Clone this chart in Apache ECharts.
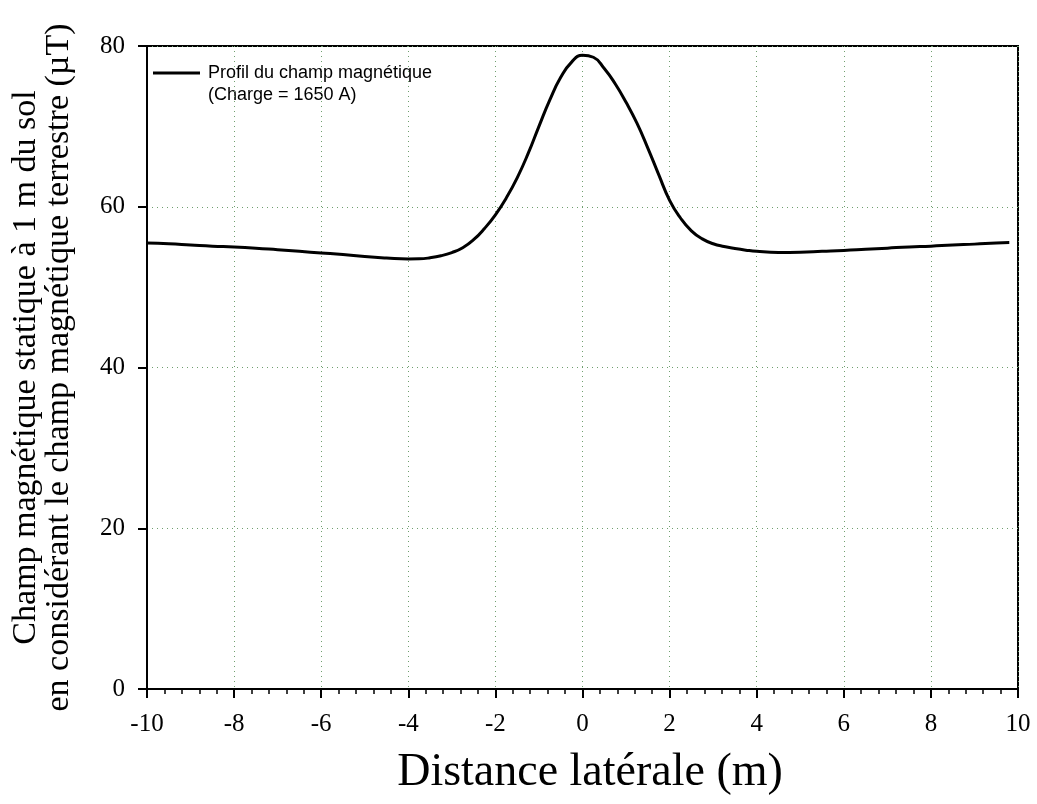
<!DOCTYPE html>
<html>
<head>
<meta charset="utf-8">
<script src="https://cdn.jsdelivr.net/npm/echarts@6/dist/echarts.min.js"></script>
<style>html,body{margin:0;padding:0;background:#fff}#c{width:1037px;height:804px}</style>
</head>
<body>
<div id="c"></div>
<script>
const distances = [-10,-9.5,-9,-8.5,-8,-7.5,-7,-6.5,-6,-5.5,-5,-4.5,-4,-3.75,-3.5,-3.25,-3,-2.75,-2.5,-2.25,-2,-1.75,-1.5,-1.25,-1,-0.75,-0.5,-0.25,0,0.25,0.5,0.75,1,1.25,1.5,1.75,2,2.25,2.5,2.75,3,3.25,3.5,3.75,4,4.5,5,5.5,6,6.5,7,7.5,8,8.5,9,9.5,9.8];
const fieldValues = [55.5,55.4,55.25,55.1,55.0,54.85,54.65,54.45,54.25,54.05,53.8,53.62,53.5,53.52,53.65,53.9,54.3,54.9,55.9,57.3,59.0,61.1,63.6,66.6,70.0,73.3,76.1,78.0,78.85,78.6,77.2,75.3,73.0,70.4,67.3,64.0,60.8,58.6,57.0,56.0,55.4,55.05,54.8,54.6,54.45,54.32,54.35,54.45,54.55,54.7,54.85,55.0,55.1,55.25,55.35,55.5,55.55];
const seriesName = 'Profil du champ magnétique';
const legendNote = '(Charge = 1650 A)';
const xTitle = 'Distance latérale (m)';
const yTitle = 'Champ magnétique statique à 1 m du sol\nen considérant le champ magnétique terrestre (µT)';

const chart = echarts.init(document.getElementById('c'));
const serif = 'Liberation Serif';
const gridLine = {show:true, lineStyle:{color:'#6f9f6f', type:[1,4], width:1}};
chart.setOption({
  animation:false,
  backgroundColor:'#fff',
  grid:{left:147, right:19, top:46, bottom:115, containLabel:false, outerBoundsMode:'none',
        show:true, borderColor:'#000', borderWidth:2, backgroundColor:'transparent'},
  legend:{
    left:148, top:59, icon:'rect', itemWidth:47, itemHeight:3, itemGap:10,
    textStyle:{fontFamily:'Liberation Sans', fontSize:18, color:'#000', padding:[0,0,0,3]},
    data:[{name:seriesName}]
  },
  graphic:[{type:'text', left:208, top:86, style:{text:legendNote, font:'18px "Liberation Sans"', fill:'#000'}}],
  xAxis:{
    type:'value', min:-10, max:10, interval:2,
    name:xTitle, nameLocation:'middle', nameGap:61,
    nameTextStyle:{fontFamily:serif, fontSize:46, color:'#000', padding:[0,0,0,15]},
    axisLine:{onZero:false, lineStyle:{color:'#000', width:2}},
    axisTick:{show:true, inside:false, length:9, lineStyle:{color:'#000', width:2}},
    minorTick:{show:true, splitNumber:5, length:5, lineStyle:{color:'#000', width:1.5}},
    axisLabel:{fontFamily:serif, fontSize:25, color:'#000', margin:23},
    splitLine:gridLine
  },
  yAxis:{
    type:'value', min:0, max:80, interval:20,
    name:yTitle, nameLocation:'middle', nameGap:71, nameRotate:90,
    nameTextStyle:{fontFamily:serif, fontSize:34, color:'#000', lineHeight:33, align:'center'},
    axisLine:{onZero:false, lineStyle:{color:'#000', width:2}},
    axisTick:{show:true, inside:false, length:9, lineStyle:{color:'#000', width:2}},
    axisLabel:{fontFamily:serif, fontSize:25, color:'#000', margin:22},
    splitLine:gridLine
  },
  series:[{
    name:seriesName, type:'line', smooth:0.5, showSymbol:false, symbol:'none',
    lineStyle:{color:'#000', width:3}, itemStyle:{color:'#000'},
    data:distances.map((d,i)=>[d, fieldValues[i]])
  }]
});
</script>
</body>
</html>
